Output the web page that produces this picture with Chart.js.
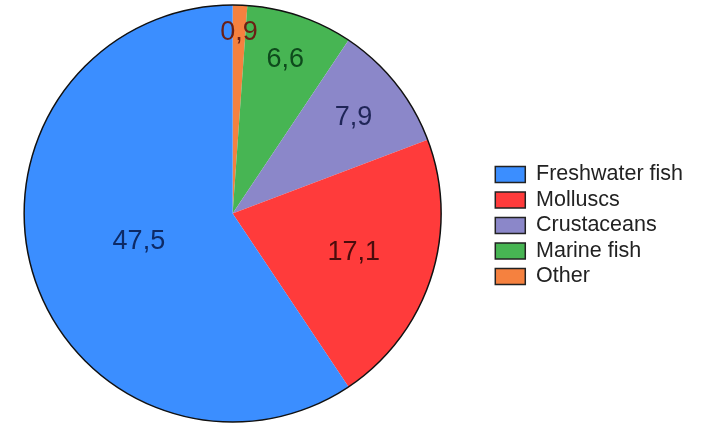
<!DOCTYPE html>
<html>
<head>
<meta charset="utf-8">
<script src="https://cdn.jsdelivr.net/npm/chart.js@4/dist/chart.umd.min.js"></script>
<style>
  html, body { margin: 0; padding: 0; background: #fff; }
</style>
</head>
<body>
<canvas id="chart" width="706" height="426"></canvas>
<script>
// drawn clockwise from 12 o'clock, legend lists them reversed
const categories = ['Other', 'Marine fish', 'Crustaceans', 'Molluscs', 'Freshwater fish']
const values = [0.9, 6.6, 7.9, 17.1, 47.5]

const sliceColors = ['#f5813f', '#47b553', '#8b87c9', '#ff3b3b', '#3b8eff']
const labelColors = ['#6b1f14', '#0e4a1c', '#1f2557', '#4a0c0c', '#0d2a66']
const labelRadius = [0.87, 0.78, 0.74, 0.61, 0.47]

// outer ring only (no separators between slices) + value labels
const outlineAndLabels = {
  id: 'outlineAndLabels',
  afterDatasetsDraw(chart) {
    const ctx = chart.ctx
    const arcs = chart.getDatasetMeta(0).data
    const c = arcs[0]
    ctx.save()
    ctx.beginPath()
    ctx.arc(c.x, c.y, c.outerRadius, 0, Math.PI * 2)
    ctx.lineWidth = 1.5
    ctx.strokeStyle = '#111'
    ctx.stroke()

    ctx.font = '27px Arial, "Liberation Sans", sans-serif'
    ctx.textAlign = 'center'
    ctx.textBaseline = 'middle'
    arcs.forEach((arc, i) => {
      const mid = (arc.startAngle + arc.endAngle) / 2
      const r = arc.outerRadius * labelRadius[i]
      ctx.fillStyle = labelColors[i]
      ctx.fillText(values[i].toFixed(1).replace('.', ','), arc.x + Math.cos(mid) * r, arc.y + Math.sin(mid) * r)
    })
    ctx.restore()
  }
}

// push the legend away from the pie a bit
const legendShift = {
  id: 'legendShift',
  afterLayout(chart) {
    const lg = chart.legend
    const dx = chart.chartArea.right + 50 - lg.left
    const dy = 12
    lg.left += dx; lg.right += dx
    lg.top += dy; lg.bottom += dy
  }
}

new Chart(document.getElementById('chart'), {
  type: 'pie',
  data: {
    labels: categories,
    datasets: [{
      data: values,
      backgroundColor: sliceColors,
      borderWidth: 0
    }]
  },
  options: {
    responsive: false,
    animation: false,
    layout: {
      padding: { left: 24, top: 5, bottom: 4, right: 63 }
    },
    plugins: {
      tooltip: { enabled: false },
      legend: {
        position: 'right',
        reverse: true,
        labels: {
          boxWidth: 30,
          boxHeight: 16,
          padding: 4,
          color: '#222',
          font: { family: 'Arial, "Liberation Sans", sans-serif', size: 21.5 },
          generateLabels(chart) {
            const items = Chart.overrides.doughnut.plugins.legend.labels.generateLabels(chart)
            items.forEach(it => {
              it.strokeStyle = '#222'
              it.lineWidth = 1.5
            })
            return items
          }
        }
      }
    }
  },
  plugins: [outlineAndLabels, legendShift]
})
</script>
</body>
</html>
